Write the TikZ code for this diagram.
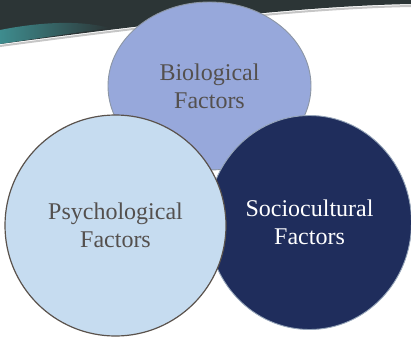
\documentclass[tikz,border=0pt]{standalone}
\usepackage{fontspec}
\setmainfont{Liberation Serif}
\usetikzlibrary{shapes.geometric,positioning}
\definecolor{bannerdark}{RGB}{44,53,54}
\definecolor{bannerteal}{RGB}{62,140,142}
\definecolor{biofill}{RGB}{151,168,219}
\definecolor{biodraw}{RGB}{140,150,165}
\definecolor{psyfill}{RGB}{198,220,240}
\definecolor{psydraw}{RGB}{90,82,76}
\definecolor{socfill}{RGB}{31,45,92}
\definecolor{socdraw}{RGB}{150,165,185}
\definecolor{factortext}{RGB}{84,80,78}

\begin{document}
\begin{tikzpicture}[x=1pt,y=-1pt,
      factor/.style={ellipse, inner sep=0pt, align=center, line width=.9pt,
        font=\fontsize{24}{28}\selectfont, text=factortext}]
  \useasboundingbox (0,0) rectangle (411,337);
  % slide banner
  \fill[bannerdark] (0,0) -- (411,0) -- (411,4) .. controls (300,6) and (150,24) .. (0,44) -- cycle;
  \shade[left color=bannerteal, right color=bannerdark] (0,44) .. controls (40,38) and (80,32) .. (110,28)
    .. controls (80,20) and (40,22) .. (0,30) -- cycle;
  \draw[gray!45, line width=2pt] (411,6) .. controls (300,8) and (150,26) .. (0,46);
  % the three factors
  \node[factor, draw=biodraw, fill=biofill, minimum width=203pt, minimum height=168pt] (bio) at (209.5,86) {Biological\\Factors};
  \node[factor, draw=socdraw, fill=socfill, text=white, minimum width=204pt, minimum height=214pt] (soc) at (309.5,222.5) {Sociocultural\\Factors};
  \node[factor, circle, draw=psydraw, fill=psyfill, line width=1.2pt, minimum size=221pt] (psy) at (115.5,225.5) {Psychological\\Factors};
\end{tikzpicture}
\end{document}
